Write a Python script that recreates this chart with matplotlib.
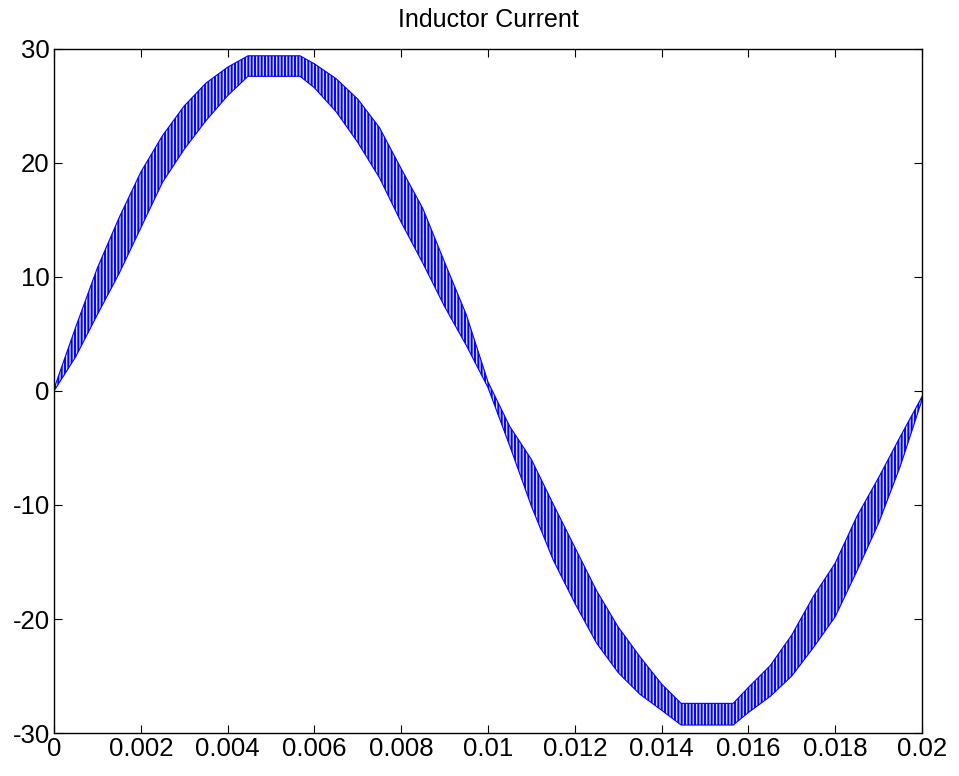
import matplotlib
matplotlib.use("Agg")
import matplotlib.pyplot as plt
from matplotlib.ticker import FixedLocator, FixedFormatter

# ---- data (upper / lower edges of the ripple band) ----
t = [0.0, 0.0005, 0.0010, 0.0015, 0.0020, 0.0025, 0.0030, 0.0035, 0.0040, 0.00447,
     0.0050, 0.00567, 0.0060, 0.0065, 0.0070, 0.0075, 0.0080, 0.0085, 0.0090, 0.0095,
     0.0100, 0.0105, 0.0110, 0.0115, 0.0120, 0.0125, 0.0130, 0.0135, 0.0140, 0.01445,
     0.0150, 0.01565, 0.0160, 0.0165, 0.0170, 0.0175, 0.0180, 0.0185, 0.0190, 0.0195,
     0.0200]
upper = [0.2, 5.6, 10.8, 15.2, 19.2, 22.4, 25.0, 27.0, 28.4, 29.4,
         29.4, 29.4, 28.7, 27.4, 25.6, 23.1, 19.5, 16.0, 11.3, 6.7,
         0.8, -3.1, -6.0, -9.9, -13.7, -17.5, -20.7, -23.3, -25.7, -27.4,
         -27.4, -27.4, -26.0, -24.1, -21.4, -18.0, -15.1, -11.0, -7.6, -4.0,
         -0.5]
lower = [0.0, 3.0, 6.7, 10.3, 14.3, 18.3, 21.2, 23.7, 25.9, 27.6,
         27.6, 27.6, 26.6, 24.5, 21.8, 18.7, 14.8, 11.2, 7.4, 4.0,
         0.3, -4.8, -10.1, -14.8, -18.6, -22.1, -24.7, -26.6, -28.0, -29.3,
         -29.3, -29.3, -28.2, -26.8, -25.0, -22.5, -19.8, -15.8, -11.6, -6.6,
         -0.8]

xticks = [0, 0.002, 0.004, 0.006, 0.008, 0.010, 0.012, 0.014, 0.016, 0.018, 0.020]
xtick_labels = ['0', '0.002', '0.004', '0.006', '0.008', '0.01', '0.012', '0.014',
                '0.016', '0.018', '0.02']
yticks = [-30, -20, -10, 0, 10, 20, 30]
ytick_labels = ['-30', '-20', '-10', '0', '10', '20', '30']
title = 'Inductor Current'

plt.rcParams['font.family'] = ['Liberation Sans', 'DejaVu Sans']
plt.rcParams['hatch.linewidth'] = 1.4
plt.rcParams['hatch.color'] = '#0000ff'

fig = plt.figure(figsize=(9.59, 7.76), dpi=100)
ax = fig.add_axes([0.0563, 0.0554, 0.9051, 0.8815])

ax.fill_between(t, lower, upper, facecolor='#d4d4ff', edgecolor='#0000ff',
                hatch='|||||', linewidth=0)
ax.plot(t, upper, color='#0000ff', lw=0.8)
ax.plot(t, lower, color='#0000ff', lw=0.8)

ax.set_xlim(0, 0.02)
ax.set_ylim(-30, 30)
ax.xaxis.set_major_locator(FixedLocator(xticks))
ax.xaxis.set_major_formatter(FixedFormatter(xtick_labels))
ax.yaxis.set_major_locator(FixedLocator(yticks))
ax.yaxis.set_major_formatter(FixedFormatter(ytick_labels))

ax.tick_params(direction='in', length=6, width=0.8, top=True, right=True,
               labelsize=18.5, colors='black', pad=3)
for s in ax.spines.values():
    s.set_linewidth(1.0)
    s.set_color('black')

ax.set_title(title, fontsize=18, pad=16)

fig.savefig('out.png', dpi=100)
